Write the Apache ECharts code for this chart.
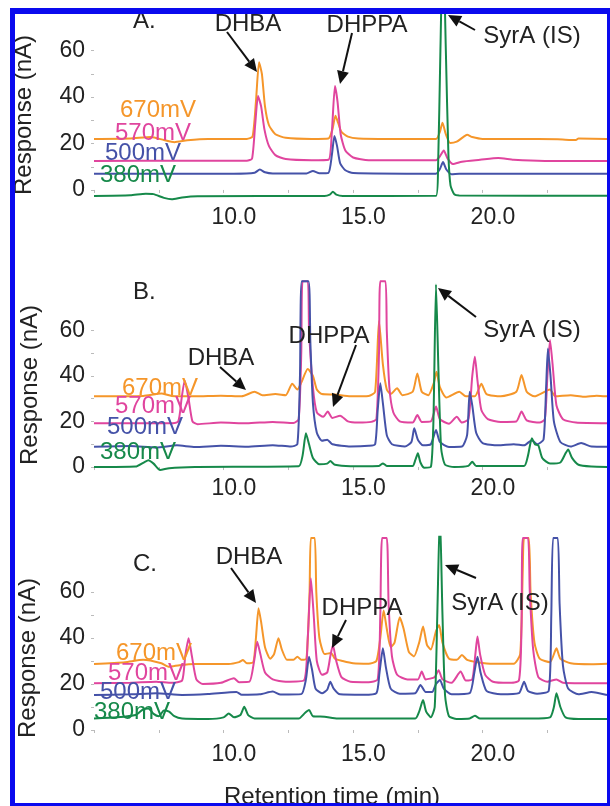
<!DOCTYPE html>
<html>
<head>
<meta charset="utf-8">
<script src="https://cdn.jsdelivr.net/npm/echarts@6/dist/echarts.min.js"></script>
<style>
  html, body { margin: 0; padding: 0; background: #fff; }
  #chart { width: 610px; height: 806px; }
</style>
</head>
<body>
<div id="chart"></div>
<script>
// retention time (min), response (nA)
var xLabels = [10, 15, 20];
var xTicks = [4.6, 7.1, 9.6, 12.1, 14.6, 17.1, 19.6, 22.1];
var yLabels = [0, 20, 40, 60];
var yTicks = [0, 10, 20, 30, 40, 50, 60];
var voltages = ['670mV', '570mV', '500mV', '380mV'];

// panel A
var a670 = [[4.6,22],[6.0,22.2],[6.8,22.8],[7.3,21.5],[7.7,20.6],[8.2,21.4],[9.0,22],[10.5,22],[10.72,23],[10.85,38],[10.97,55],[11.08,50],[11.2,36],[11.35,28],[11.6,24],[12.0,22.5],[13.0,22],[13.65,22.2],[13.8,26],[13.92,32],[14.02,29],[14.15,25],[14.4,23],[14.8,22.2],[16,22],[17.8,22],[17.95,25],[18.05,29],[18.18,24],[18.35,20.2],[18.6,20.8],[18.85,22.8],[19.0,23.8],[19.2,22.8],[19.6,22],[21,22],[22.5,21.8],[23.2,21.5],[23.3,22.2],[24.4,22]];
var a570 = [[4.6,12.5],[8,12.6],[10.5,12.6],[10.7,13.5],[10.82,28],[10.93,40.5],[11.05,36],[11.18,26],[11.35,19],[11.6,15],[12.0,13.3],[13.0,12.8],[13.65,13],[13.78,25],[13.9,44.8],[14.0,38],[14.12,24],[14.3,17],[14.6,14],[15.2,12.8],[17.8,12.8],[17.95,14.5],[18.1,17],[18.25,13.5],[18.45,11.2],[18.8,12.2],[19.5,13],[20.2,13.8],[20.8,13],[22,12.5],[24.4,12.5]];
var a500 = [[4.6,7],[10,7],[10.8,7.4],[11.0,8.8],[11.2,7.6],[11.5,7.1],[12.8,7.1],[13.05,8.2],[13.3,7.2],[13.65,7.4],[13.78,15],[13.88,23.3],[13.98,19],[14.1,11.5],[14.3,8.5],[14.6,7.3],[17.8,7],[17.95,9],[18.07,12],[18.2,8.8],[18.4,6.8],[18.7,7],[24.4,7]];
var a380 = [[4.6,-2.6],[6.0,-2.3],[6.6,-1.6],[6.9,-1.8],[7.3,-3.4],[7.6,-4],[8.0,-3.2],[8.6,-2.7],[13.5,-2.6],[13.7,-2.0],[13.82,-0.8],[13.95,-2.0],[14.2,-2.6],[17.8,-2.5],[17.88,10],[17.97,60],[18.07,110],[18.18,60],[18.28,15],[18.36,2],[18.5,-1.8],[18.7,-2.4],[24.4,-2.5]];

// panel B
var b670 = [[4.6,31],[6.5,31.2],[7.2,32.3],[7.6,31.2],[8.5,31],[9.5,31.3],[10.3,31],[10.8,33],[11.1,31.5],[11.6,32],[12.0,31.5],[12.25,36.5],[12.45,34],[12.6,37],[12.85,43],[13.05,40],[13.2,34],[13.4,32],[13.9,31.8],[14.5,31],[15.2,31.2],[15.45,33],[15.6,64],[15.75,45],[15.9,34],[16.05,32],[16.3,34.5],[16.5,31.5],[16.9,33],[17.08,41],[17.25,33],[17.5,31.5],[17.72,37],[17.82,41.8],[17.95,35],[18.2,30.5],[18.7,33],[18.95,31],[19.3,31],[19.55,36.5],[19.75,32],[20.3,31],[20.9,33],[21.1,40.4],[21.3,33],[21.6,31],[22.2,34],[22.4,31],[23.0,31.5],[23.5,30.8],[24.0,31.3],[24.4,31]];
var b570 = [[4.6,19.2],[7.5,19.2],[7.85,20],[7.98,30],[8.1,38],[8.25,30],[8.4,20],[8.6,18.8],[9.5,19.5],[10.5,19.2],[11.5,19.8],[12.3,19.3],[12.5,21],[12.6,50],[12.65,81.5],[12.85,81.5],[12.9,60],[13.05,35],[13.2,24],[13.45,22],[13.62,24.3],[13.8,21.5],[14.1,22.5],[14.4,20],[14.8,19.5],[15.3,19.8],[15.5,21],[15.6,50],[15.65,81.5],[15.85,81.5],[15.9,60],[16.0,35],[16.15,24],[16.4,20],[16.9,19.5],[17.08,22.8],[17.25,19.8],[17.6,20],[17.8,26.5],[17.95,21],[18.3,19],[18.6,22],[18.8,19.5],[19.05,21],[19.2,40],[19.3,48.4],[19.4,38],[19.55,25],[19.8,21],[20.3,19.8],[20.9,20],[21.1,24.3],[21.3,20.5],[21.8,19.5],[22.0,21],[22.1,40],[22.2,55.7],[22.3,45],[22.45,27],[22.7,21],[23.2,19.5],[24.4,19.2]];
var b500 = [[4.6,8.9],[6.0,9.2],[7.0,8.5],[7.8,9.5],[8.5,8.8],[9.5,9.3],[10.5,8.9],[11.5,9.6],[12.2,9],[12.45,10],[12.55,40],[12.62,81.5],[12.88,81.5],[12.95,55],[13.05,28],[13.2,15],[13.4,11.5],[13.6,12],[13.8,10],[14.5,9],[15.2,9.3],[15.45,10],[15.55,25],[15.65,36.7],[15.75,28],[15.9,14],[16.1,10],[16.6,9],[16.85,11],[16.96,17],[17.1,12],[17.3,9.5],[17.6,10],[17.8,16.2],[17.95,11],[18.3,8.8],[18.8,9],[19.0,14],[19.1,33],[19.2,27],[19.35,15],[19.6,10.5],[20.2,9.5],[20.8,10],[21.2,9.5],[21.5,11.8],[21.7,10],[21.95,12],[22.05,35],[22.12,52],[22.22,40],[22.35,20],[22.6,11],[23.0,9],[23.4,10.5],[23.8,9],[24.4,8.9]];
var b380 = [[4.6,0],[6.2,0.2],[6.55,2.2],[6.7,3],[6.9,1.5],[7.15,-1.3],[7.5,-0.5],[8.5,0],[12.5,0.3],[12.65,5],[12.78,14.8],[12.9,10],[13.05,4],[13.3,1.2],[13.6,1.5],[13.72,2.6],[13.9,1],[14.5,0.4],[15.6,0.5],[15.75,1.6],[15.9,0.5],[16.9,0.5],[17.0,3],[17.1,6],[17.2,2],[17.35,-0.3],[17.6,0],[17.7,20],[17.8,80],[17.9,40],[18.0,8],[18.15,1],[18.5,0],[19.05,0.5],[19.2,2.3],[19.35,0.5],[21.2,0.5],[21.35,5],[21.5,12.6],[21.62,10],[21.75,9.5],[21.9,4],[22.2,1.5],[22.6,2],[22.8,6],[22.9,7.7],[23.05,4],[23.3,1],[23.8,0.2],[24.4,0]];

// panel C
var c670 = [[4.6,28.7],[5.8,29.5],[6.5,30.5],[7.2,29],[7.5,27.5],[7.9,28.2],[8.5,28.7],[9.8,28.7],[10.2,29.5],[10.35,30.4],[10.5,29],[10.75,29.5],[10.85,40],[10.95,52.9],[11.05,47],[11.2,36],[11.4,31],[11.55,33],[11.72,39.9],[11.85,35],[12.05,30.5],[12.3,30.5],[12.45,31.9],[12.6,30.5],[12.8,31],[12.92,60],[12.97,83.5],[13.12,83.5],[13.18,60],[13.3,40],[13.5,33],[13.75,33.5],[13.9,31],[14.2,30],[14.6,29],[15.2,28.8],[15.5,30],[15.65,40],[15.78,52],[15.9,44],[16.05,36],[16.2,38],[16.4,49],[16.55,44],[16.75,34],[16.95,32],[17.15,38],[17.3,45],[17.45,37],[17.6,35],[17.8,43],[17.92,45.6],[18.05,38],[18.3,31],[18.6,30.5],[18.8,32.6],[19.0,30.5],[19.4,29.5],[20.0,28.8],[20.8,28.8],[21.05,33],[21.15,70],[21.2,83.5],[21.38,83.5],[21.45,60],[21.6,38],[21.8,31],[22.2,29.5],[22.45,35.5],[22.6,31],[23.0,29],[23.8,28.6],[24.4,28.8]];
var c570 = [[4.6,20.3],[6,20.5],[7.0,21],[7.6,20.5],[8.0,21.5],[8.12,32],[8.25,39.9],[8.38,32],[8.55,22],[8.8,20],[9.5,20.5],[10.0,22.5],[10.2,20.8],[10.6,21],[10.78,30],[10.9,38.4],[11.02,33],[11.2,25],[11.5,22],[12.0,21],[12.7,21.5],[12.85,40],[12.97,66],[13.08,50],[13.2,30],[13.4,24],[13.6,25],[13.72,32],[13.82,37],[13.95,30],[14.15,23],[14.5,21],[15.2,20.8],[15.55,22],[15.65,50],[15.72,83.5],[15.9,83.5],[15.97,55],[16.1,32],[16.3,24],[16.7,22],[17.1,22],[17.25,25.4],[17.4,22],[17.75,23],[17.9,26],[18.05,22],[18.4,20.5],[18.75,25.4],[18.95,21.5],[19.2,22],[19.32,33],[19.4,40.6],[19.5,33],[19.7,24],[20.0,21],[20.6,20.5],[21.0,21.5],[21.1,45],[21.15,83.5],[21.35,83.5],[21.42,60],[21.55,35],[21.75,23],[22.1,21],[22.45,22],[22.7,20.5],[23.4,20.3],[24.4,20.3]];
var c500 = [[4.6,15.2],[6.0,15.5],[7.0,16],[8.0,15.2],[9.0,15.6],[10.1,16.5],[10.3,15.3],[11.0,15.5],[11.5,16.7],[11.8,15.4],[12.6,15.6],[12.78,22],[12.9,31.9],[13.02,26],[13.15,18],[13.4,16],[13.6,17.5],[13.72,21],[13.85,18],[14.1,15.5],[15.0,15.3],[15.5,16],[15.62,25],[15.75,35.5],[15.87,27],[16.05,18],[16.4,15.8],[17.0,16],[17.2,19.6],[17.4,16.5],[17.65,16.5],[17.8,20],[17.95,21.7],[18.1,18],[18.4,15.5],[19.1,16],[19.28,25],[19.4,31.9],[19.52,25],[19.75,17],[20.3,15.5],[21.0,16],[21.2,21],[21.35,17],[21.7,15.8],[22.15,17],[22.25,50],[22.32,83.5],[22.5,83.5],[22.57,55],[22.7,28],[22.9,18],[23.3,15.5],[23.8,16.5],[24.4,15.2]];
var c380 = [[4.6,5],[5.5,5.5],[6.2,6.5],[6.5,9],[6.7,9.4],[6.9,7],[7.1,6],[7.3,8.5],[7.5,8],[7.7,6],[8.0,5],[9.0,4.8],[9.6,5.5],[9.8,7.2],[10.0,5.5],[10.25,6.5],[10.4,10.1],[10.55,6.5],[10.8,5],[12.5,5],[12.75,7.5],[12.9,8.7],[13.05,6],[13.5,5.8],[14.0,5],[17.0,5],[17.15,8],[17.3,13],[17.42,8],[17.6,5.5],[17.75,10],[17.85,50],[17.95,95],[18.05,50],[18.15,15],[18.3,6],[18.6,4.8],[19.1,5],[19.3,6.2],[19.5,5],[21.5,5],[22.2,5.5],[22.35,10],[22.45,16],[22.6,10],[22.8,5.5],[23.3,4.8],[24.4,4.8]];

var colors = ['#f5962a', '#e0459e', '#4552a8', '#16894a'];
var FONT = 'Liberation Sans, Arial, sans-serif';

var myChart = echarts.init(document.getElementById('chart'));

// 3 panels stacked: y ranges chosen so the pixel scale matches the figure
var panels = [
  { top: 13.6, height: 186.8, min: -4.5, max: 76, sets: [a670, a570, a500, a380] },
  { top: 278.9, height: 192.7, min: -2, max: 82.5, sets: [b670, b570, b500, b380] },
  { top: 536.8, height: 200.1, min: -3, max: 84, sets: [c670, c570, c500, c380] }
];

var grid = [], xAxis = [], yAxis = [], series = [];
panels.forEach(function (p, i) {
  grid.push({ left: 94, width: 513, top: p.top, height: p.height });
  xAxis.push({
    type: 'value', gridIndex: i, min: 4.6, max: 24.4,
    axisLine: { show: false }, splitLine: { show: false },
    axisTick: { show: true, customValues: xTicks, length: 3, lineStyle: { color: '#bbb' } },
    axisLabel: { customValues: xLabels, formatter: function (v) { return v.toFixed(1); },
      fontSize: 23, color: '#222', margin: 6, fontFamily: FONT }
  });
  yAxis.push({
    type: 'value', gridIndex: i, min: p.min, max: p.max,
    axisLine: { show: false }, splitLine: { show: false },
    axisTick: { show: true, customValues: yTicks, length: 3, lineStyle: { color: '#bbb' } },
    axisLabel: { customValues: yLabels, fontSize: 23, color: '#222', margin: 9, fontFamily: FONT }
  });
  p.sets.forEach(function (d, k) {
    series.push({
      name: voltages[k], type: 'line', xAxisIndex: i, yAxisIndex: i,
      data: d, showSymbol: false, smooth: 0.2, clip: true, silent: true,
      lineStyle: { color: colors[k], width: 2 }, z: 2 + k
    });
  });
});

function txt(s, x, y, opts) {
  opts = opts || {};
  return {
    type: 'text', x: x, y: y, rotation: opts.rot || 0, z: 10,
    style: { text: s, font: (opts.size || 24) + 'px ' + FONT, fill: opts.fill || '#222',
      align: opts.align || 'center', verticalAlign: 'middle' }
  };
}

// line with a filled head at (x2, y2)
function arrow(x1, y1, x2, y2) {
  var dx = x2 - x1, dy = y2 - y1, len = Math.sqrt(dx * dx + dy * dy);
  var ux = dx / len, uy = dy / len, hl = 13, hw = 6;
  var bx = x2 - ux * hl, by = y2 - uy * hl;
  return [
    { type: 'line', z: 10, shape: { x1: x1, y1: y1, x2: bx, y2: by }, style: { stroke: '#111', lineWidth: 2 } },
    { type: 'polygon', z: 10, shape: { points: [[x2, y2], [bx - uy * hw, by + ux * hw], [bx + uy * hw, by - ux * hw]] }, style: { fill: '#111' } }
  ];
}

var labelPos = [
  [[120, 110], [115, 133], [105, 153], [100, 175]],
  [[122, 388], [115, 406], [107, 427], [100, 452]],
  [[116, 653], [108, 673], [100, 692], [94, 712]]
];

var graphic = [];
labelPos.forEach(function (pp) {
  pp.forEach(function (q, k) {
    graphic.push(txt(voltages[k], q[0], q[1], { fill: colors[k], align: 'left' }));
  });
});

graphic.push(txt('A.', 133, 21, { align: 'left' }));
graphic.push(txt('B.', 133, 292, { align: 'left' }));
graphic.push(txt('C.', 133, 564, { align: 'left' }));

graphic.push(txt('Response (nA)', 24, 115, { rot: Math.PI / 2 }));
graphic.push(txt('Response (nA)', 30, 385, { rot: Math.PI / 2 }));
graphic.push(txt('Response (nA)', 28, 658, { rot: Math.PI / 2 }));
graphic.push(txt('Retention time (min)', 332, 797));

// compound annotations
graphic.push(txt('DHBA', 248, 24));
graphic.push(txt('DHPPA', 367, 25));
graphic.push(txt('SyrA (IS)', 532, 36));
graphic = graphic.concat(arrow(227, 32, 257, 72), arrow(352, 33, 340, 84), arrow(475, 30, 448, 15));

graphic.push(txt('DHBA', 221, 358));
graphic.push(txt('DHPPA', 329, 336));
graphic.push(txt('SyrA (IS)', 532, 330));
graphic = graphic.concat(arrow(220, 367, 246, 390), arrow(356, 345, 333, 407), arrow(476, 317, 438, 288));

graphic.push(txt('DHBA', 249, 557));
graphic.push(txt('DHPPA', 362, 608));
graphic.push(txt('SyrA (IS)', 500, 603));
graphic = graphic.concat(arrow(231, 568, 256, 603), arrow(346, 620, 332, 648), arrow(476, 578, 445, 565));

// blue frame around the figure
var blue = '#0a0aee';
graphic.push({ type: 'rect', z: 20, shape: { x: 10, y: 8, width: 600, height: 6 }, style: { fill: blue } });
graphic.push({ type: 'rect', z: 20, shape: { x: 10, y: 8, width: 5, height: 798 }, style: { fill: blue } });
graphic.push({ type: 'rect', z: 20, shape: { x: 607, y: 8, width: 3, height: 798 }, style: { fill: blue } });
graphic.push({ type: 'rect', z: 20, shape: { x: 10, y: 803, width: 600, height: 3 }, style: { fill: blue } });

myChart.setOption({
  animation: false,
  backgroundColor: '#fff',
  grid: grid,
  xAxis: xAxis,
  yAxis: yAxis,
  series: series,
  graphic: graphic
});
</script>
</body>
</html>
